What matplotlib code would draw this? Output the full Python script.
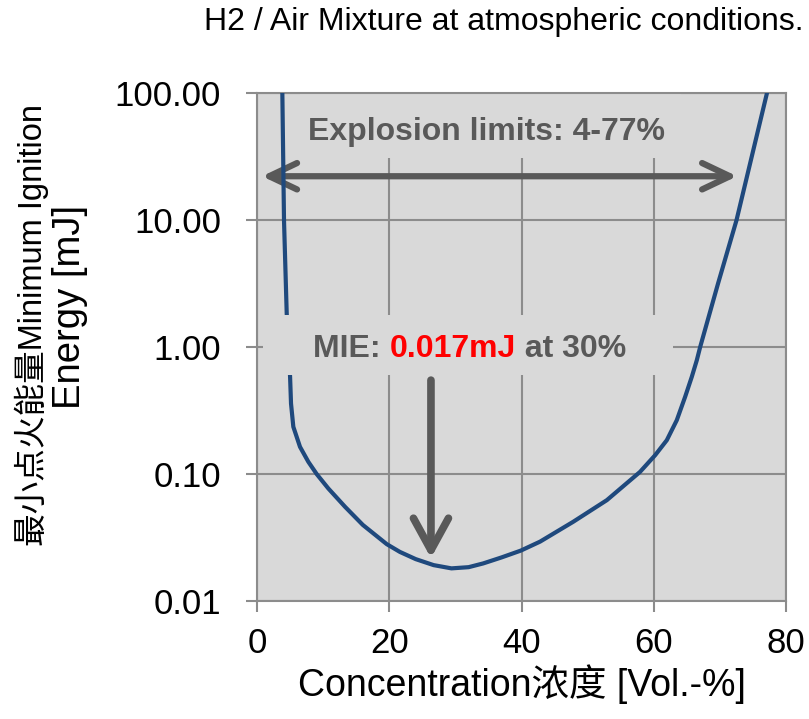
import matplotlib
matplotlib.use("Agg")
import matplotlib.pyplot as plt
from matplotlib.patches import FancyArrowPatch, Rectangle
from matplotlib.ticker import FixedLocator, FormatStrFormatter, NullLocator

plt.rcParams["font.family"] = ["Liberation Sans", "Noto Sans CJK SC", "DejaVu Sans"]

# H2 / air minimum ignition energy curve
conc = [3.83, 4.08, 4.49, 5.0, 5.14, 5.49, 6.5, 7.76, 9.03, 10.78, 13.31, 16.0,
        19.61, 21.6, 24.0, 26.7, 29.4, 32.0, 34.2, 37.0, 39.9, 42.8, 47.8, 52.9,
        57.9, 60.2, 61.96, 63.47, 64.73, 65.74, 66.5, 67.0, 69.7, 72.5, 77.1]
mie = [100.0, 10.0, 1.84, 0.584, 0.36, 0.236, 0.164, 0.125, 0.1, 0.0771, 0.0553, 0.0398,
       0.0281, 0.0244, 0.0214, 0.0192, 0.0181, 0.0185, 0.0198, 0.0221, 0.0250, 0.0294,
       0.0421, 0.0624, 0.104, 0.141, 0.185, 0.266, 0.406, 0.584, 0.79, 1.0, 3.16,
       10.0, 100.0]

x_ticks = [0, 20, 40, 60, 80]
y_ticks = [0.01, 0.1, 1, 10, 100]

title = "H2 / Air Mixture at atmospheric conditions."
xlabel = "Concentration浓度 [Vol.-%]"
ylabel_1 = "最小点火能量Minimum Ignition"
ylabel_2 = "Energy [mJ]"

limits_range = (0.75, 72.6, 22.2)      # x start, x end, y
mie_arrow = (26.3, 0.55, 0.0218)        # x, y start, y end

grey = "#8c8c8c"
dark = "#595959"
bg = "#d9d9d9"

fig = plt.figure(figsize=(8.09, 7.19), dpi=100)
ax = fig.add_axes([0.3177, 0.164, 0.654, 0.7063])
ax.set_facecolor(bg)

ax.plot(conc, mie, color="#1f497d", lw=3, zorder=3)

ax.set_yscale("log")
ax.set_xlim(0, 80)
ax.set_ylim(0.01, 100)
ax.xaxis.set_major_locator(FixedLocator(x_ticks))
ax.yaxis.set_major_locator(FixedLocator(y_ticks))
ax.yaxis.set_minor_locator(NullLocator())
ax.yaxis.set_major_formatter(FormatStrFormatter("%.2f"))
ax.grid(True, color=grey, lw=1.5, zorder=1)
ax.set_axisbelow(True)
for s in ax.spines.values():
    s.set_color(grey)
    s.set_linewidth(1.5)
ax.tick_params(axis="both", direction="out", length=8, width=1.5, color=grey,
               labelsize=25)
ax.tick_params(axis="y", pad=18)
ax.tick_params(axis="x", pad=11)

ax.set_xlabel(xlabel, fontsize=27, labelpad=3)
fig.text(0.039, 0.548, ylabel_1, fontsize=23.5, rotation=90, ha="center", va="center")
fig.text(0.0865, 0.573, ylabel_2, fontsize=27.5, rotation=90, ha="center", va="center")
fig.text(0.9926, 0.969, title, ha="right", va="center", fontsize=23)

# background boxes behind the annotations (hide grid and curve)
ax.add_patch(Rectangle((0.081, 0.872), 0.72, 0.128, transform=ax.transAxes,
                       facecolor=bg, edgecolor="none", zorder=2))
ax.add_patch(Rectangle((0.011, 0.445), 0.775, 0.118, transform=ax.transAxes,
                       facecolor=bg, edgecolor="none", zorder=4))

# explosion limits
arr1 = FancyArrowPatch((limits_range[0], limits_range[2]), (limits_range[1], limits_range[2]),
                       arrowstyle="<->,head_length=20,head_width=9.5", mutation_scale=1,
                       shrinkA=0, shrinkB=0, color=dark, lw=4.5,
                       capstyle="round", joinstyle="round", zorder=2.5)
ax.add_patch(arr1)
ax.text(7.7, 42.7, "Explosion limits: 4-77%", fontsize=23, fontweight="bold", color=dark,
        ha="left", va="baseline", zorder=5)

# MIE arrow and label
arr2 = FancyArrowPatch((mie_arrow[0], mie_arrow[1]), (mie_arrow[0], mie_arrow[2]),
                       arrowstyle="->,head_length=23,head_width=12.6", mutation_scale=1,
                       shrinkA=0, shrinkB=0, color=dark, lw=5.5,
                       capstyle="round", joinstyle="round", zorder=2.5)
ax.add_patch(arr2)
t1 = ax.text(8.52, 0.834, "MIE: ", fontsize=23, fontweight="bold", color=dark,
             ha="left", va="baseline", zorder=5)
t2 = ax.annotate("0.017mJ", xy=(1, 0), xycoords=t1, fontsize=23, fontweight="bold",
                 color="red", ha="left", va="bottom", zorder=5)
t3 = ax.annotate(" at 30%", xy=(1, 0), xycoords=t2, fontsize=23, fontweight="bold",
                 color=dark, ha="left", va="bottom", zorder=5)

fig.savefig("out.png", dpi=100)
